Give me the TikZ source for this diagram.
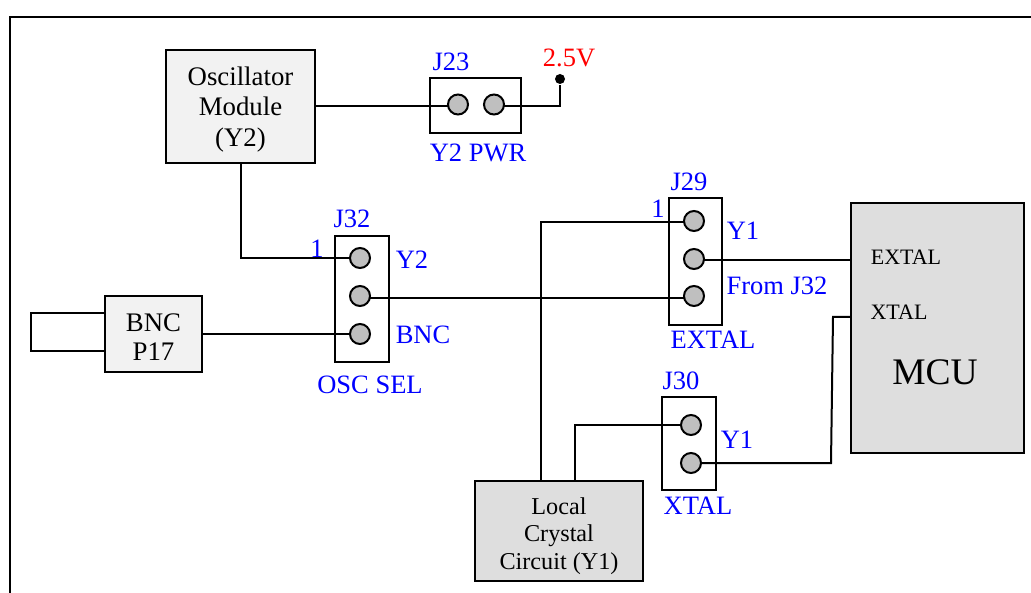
\documentclass[tikz,border=0pt]{standalone}
\usepackage{fontspec}
\setmainfont{Liberation Serif}
\begin{document}
\begin{tikzpicture}[x=1pt,y=-1pt,line width=2pt,
  boxnode/.style={draw,line width=2pt,inner sep=0pt,outer sep=0pt,align=center,text=black,font=\fontsize{26.8}{30.5}\selectfont},
  hdr/.style={draw,line width=2pt,fill=white,inner sep=0pt,outer sep=0pt},
  pinnode/.style={draw,circle,line width=2pt,fill=pingray,minimum size=20pt,inner sep=0pt,outer sep=0pt},
  bluelabel/.style={inner sep=0pt,text=blue,font=\fontsize{26.5}{30}\selectfont},
  wire/.style={draw=black,line width=2pt,line join=miter}]
\definecolor{pingray}{HTML}{BFBFBF}
\definecolor{lightbox}{HTML}{F2F2F2}
\definecolor{darkbox}{HTML}{DEDEDE}
\useasboundingbox (0,0) rectangle (1031,593);
\coordinate (fa) at (9.5,593);
\coordinate (fb) at (9.5,17);
\coordinate (fc) at (1031,17);
\draw[line width=2pt] (fa) -- (fb) -- (fc);
% boxes
\node[boxnode,fill=lightbox,minimum width=149pt,minimum height=113pt] (osc) at (240.5,106.5) {\rule{0pt}{24pt}Oscillator\\Module\\(Y2)};
\node[boxnode,fill=lightbox,minimum width=97pt,minimum height=76pt,font=\fontsize{26.8}{29}\selectfont] (bnc) at (153.5,334) {\rule{0pt}{25pt}BNC\\P17};
\node[boxnode,fill=darkbox,minimum width=168pt,minimum height=100pt,font=\fontsize{24.2}{27.5}\selectfont] (local) at (559,531) {\rule{0pt}{27pt}Local\\Crystal\\Circuit (Y1)};
\node[boxnode,fill=darkbox,minimum width=173pt,minimum height=250pt] (mcu) at (937.5,328) {};
\node[hdr,minimum width=91pt,minimum height=55pt] (j23) at (475.5,105.5) {};
\node[hdr,minimum width=54pt,minimum height=126pt] (j32) at (362,299) {};
\node[hdr,minimum width=53pt,minimum height=127pt] (j29) at (695.5,261.5) {};
\node[hdr,minimum width=54pt,minimum height=93pt] (j30) at (689,443.5) {};
\coordinate (cna) at (105,313);
\coordinate (cnb) at (31,313);
\coordinate (cnc) at (31,351);
\coordinate (cnd) at (105,351);
\draw[wire] (cna) -- (cnb) -- (cnc) -- (cnd);
% pins
\node[pinnode] (a1) at (458,104.5) {};
\node[pinnode] (a2) at (494,104.5) {};
\node[pinnode] (b1) at (360,258) {};
\node[pinnode] (b2) at (360,296) {};
\node[pinnode] (b3) at (360,334) {};
\node[pinnode] (c1) at (694,221) {};
\node[pinnode] (c2) at (694,259) {};
\node[pinnode] (c3) at (694,296) {};
\node[pinnode] (d1) at (691,425) {};
\node[pinnode] (d2) at (691,463) {};
\node[circle,fill=black,minimum size=10pt,inner sep=0pt] (vdot) at (560,79) {};
% wires
\draw[wire] (osc.east) -- (osc.east -| a1.west);
\draw[wire] ([yshift=-1.5pt]a2.east) -| (vdot);
\draw[wire] (osc.south) |- (b1.west);
\draw[wire] (bnc.east) -- (b3.west);
\draw[wire] ([yshift=-2pt]b2.east) -- ([yshift=-2pt]c3.west);
\coordinate (la) at (541,481);
\coordinate (lb) at (575,481);
\draw[wire] (la) |- ([yshift=-1pt]c1.west);
\draw[wire] (lb) |- (d1.west);
\draw[wire] ([yshift=-1pt]c2.east) -- ([yshift=-1pt]c2.east -| mcu.west);
\coordinate (xa) at (851,317);
\coordinate (xb) at (833,317);
\coordinate (xc) at (831,463);
\draw[wire] (xa) -- (xb) -- (xc) -- (d2.east);
% labels
\node[bluelabel] (t1) at (451,62) {J23};
\node[inner sep=0pt,text=red,font=\fontsize{26.5}{30}\selectfont] (t2) at (569,58) {2.5V};
\node[bluelabel] (t3) at (478,153) {Y2 PWR};
\node[bluelabel] (t4) at (352,219) {J32};
\node[bluelabel] (t5) at (317,249) {1};
\node[bluelabel] (t6) at (412,260) {Y2};
\node[bluelabel] (t7) at (423,335) {BNC};
\node[bluelabel] (t8) at (370,385) {OSC SEL};
\node[bluelabel] (t9) at (689,182) {J29};
\node[bluelabel] (t10) at (658,209) {1};
\node[bluelabel] (t11) at (743,231) {Y1};
\node[bluelabel] (t12) at (777,286) {From J32};
\node[bluelabel] (t13) at (713,340) {EXTAL};
\node[bluelabel] (t14) at (681,381) {J30};
\node[bluelabel] (t15) at (737,440) {Y1};
\node[bluelabel] (t16) at (698,506) {XTAL};
\node[inner sep=0pt,font=\fontsize{22}{24}\selectfont] (m1) at (906,257) {EXTAL};
\node[inner sep=0pt,font=\fontsize{22}{24}\selectfont] (m2) at (899,312) {XTAL};
\node[inner sep=0pt,font=\fontsize{37.5}{40}\selectfont] (m3) at (935,372) {MCU};
\end{tikzpicture}
\end{document}
